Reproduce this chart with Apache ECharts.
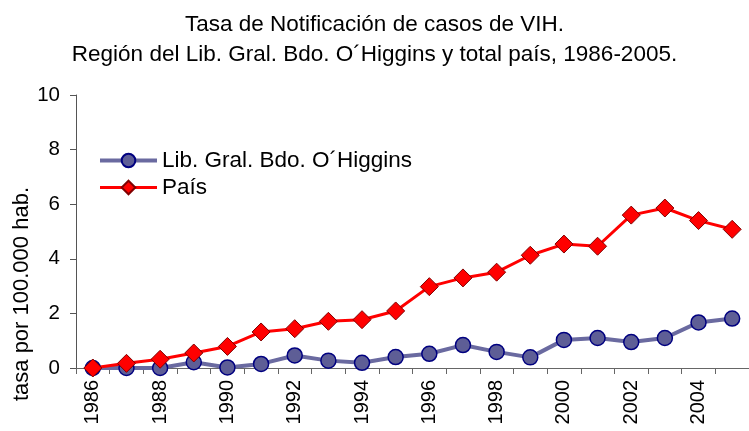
<!DOCTYPE html>
<html>
<head>
<meta charset="utf-8">
<script src="https://cdn.jsdelivr.net/npm/echarts@6/dist/echarts.min.js"></script>
<style>
html, body { margin: 0; padding: 0; background: #fff; }
#chartBox { width: 749px; height: 431px; }
</style>
</head>
<body>
<div id="chartBox"></div>
<script>
// datos
const years = ['1986','1987','1988','1989','1990','1991','1992','1993','1994','1995',
               '1996','1997','1998','1999','2000','2001','2002','2003','2004','2005'];
const ohiggins = [0, 0, 0, 0.21, 0.02, 0.15, 0.46, 0.27, 0.19, 0.40,
                  0.52, 0.84, 0.59, 0.39, 1.03, 1.10, 0.95, 1.10, 1.67, 1.81];
const pais = [0, 0.17, 0.32, 0.55, 0.79, 1.32, 1.44, 1.71, 1.77, 2.09,
              2.98, 3.30, 3.51, 4.13, 4.54, 4.46, 5.60, 5.86, 5.40, 5.08];
const seriesNames = ['Lib. Gral. Bdo. O´Higgins', 'País'];
const titleLines = ['Tasa de Notificación de casos de VIH.',
                    'Región del Lib. Gral. Bdo. O´Higgins y total país, 1986-2005.'];
const yName = 'tasa por 100.000 hab.';

const myChart = echarts.init(document.getElementById('chartBox'));
const font = '"Liberation Sans", Arial, sans-serif';

let option = {
    animation: false,
    title: {
        text: titleLines.join('\n'),
        left: 'center',
        top: 5,
        textStyle: {
            fontFamily: '"Liberation Sans Narrow", "Liberation Sans", Arial, sans-serif',
            fontSize: 22.5,
            fontWeight: 'normal',
            color: '#000',
            lineHeight: 30
        }
    },
    grid: {
        left: 76,
        right: -2,
        top: 95,
        bottom: 63,
        containLabel: false
    },
    legend: {
        orient: 'vertical',
        left: 93,
        top: 144,
        itemWidth: 57,
        itemHeight: 17,
        itemGap: 4,
        textStyle: {
            fontFamily: font,
            fontSize: 22.5,
            lineHeight: 21,
            color: '#000'
        },
        data: [
            { name: seriesNames[0], lineStyle: { width: 4 } },
            { name: seriesNames[1], lineStyle: { width: 3 } }
        ]
    },
    xAxis: {
        type: 'category',
        boundaryGap: true,
        data: years,
        axisLine: { lineStyle: { color: '#666', width: 1 } },
        axisTick: { show: true, interval: 0, length: 6, lineStyle: { color: '#666' } },
        axisLabel: {
            interval: 1,
            rotate: 90,
            margin: 12,
            fontFamily: font,
            fontSize: 20,
            color: '#000'
        },
        splitLine: { show: false }
    },
    yAxis: {
        type: 'value',
        min: 0,
        max: 10,
        interval: 2,
        axisLine: { show: true, lineStyle: { color: '#555', width: 1 } },
        axisTick: { show: true, length: 6, lineStyle: { color: '#555' } },
        axisLabel: {
            margin: 16,
            fontFamily: font,
            fontSize: 20.5,
            color: '#000'
        },
        splitLine: { show: false }
    },
    graphic: [
        {
            type: 'text',
            x: 22,
            y: 187,
            rotation: Math.PI / 2,
            style: {
                text: yName,
                fontFamily: font,
                fontSize: 22,
                fill: '#000',
                align: 'right',
                verticalAlign: 'middle'
            }
        }
    ],
    series: [
        {
            name: seriesNames[0],
            type: 'line',
            data: ohiggins,
            symbol: 'circle',
            symbolSize: 15,
            lineStyle: { color: '#6a6aa0', width: 4 },
            itemStyle: { color: '#5e5e96', borderColor: '#000080', borderWidth: 1.5 }
        },
        {
            name: seriesNames[1],
            type: 'line',
            data: pais,
            symbol: 'diamond',
            symbolSize: 18,
            lineStyle: { color: '#ff0000', width: 3 },
            itemStyle: { color: '#ff0000', borderColor: '#800000', borderWidth: 1 }
        }
    ]
};
myChart.setOption(option);
</script>
</body>
</html>
